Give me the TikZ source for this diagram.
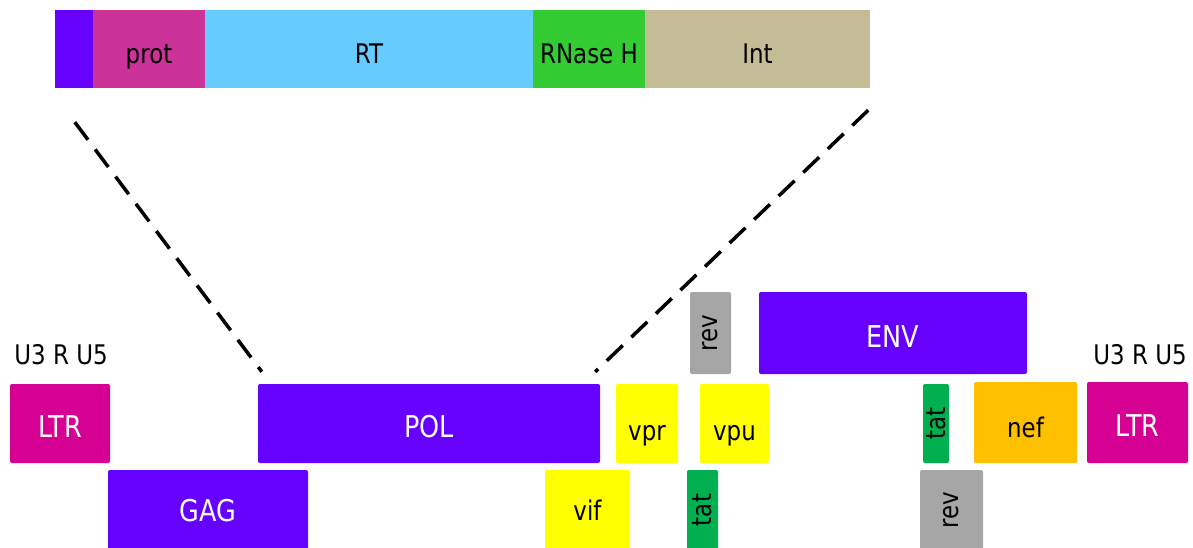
\documentclass[tikz,border=0pt]{standalone}
\usepackage{fontspec}
\setmainfont{DejaVu Sans}[FakeStretch=0.85]
\usepackage{xcolor}
\usepackage{tikz}
\usetikzlibrary{calc}
\definecolor{gpurple}{HTML}{6600FF}
\definecolor{gprot}{HTML}{CC3399}
\definecolor{grt}{HTML}{66CCFF}
\definecolor{grnase}{HTML}{33CC33}
\definecolor{gint}{HTML}{C4BC96}
\definecolor{gltr}{HTML}{D60093}
\definecolor{gyellow}{HTML}{FFFF00}
\definecolor{grev}{HTML}{A6A6A6}
\definecolor{gtat}{HTML}{00B050}
\definecolor{gnef}{HTML}{FFC000}
\tikzset{
  seg/.style={rectangle, inner sep=0pt, text=black, font=\fontsize{27}{30}\selectfont,
    text height=28pt, text depth=0pt},
  gene/.style={seg, rounded corners=2pt, text height=33pt},
  vgene/.style={rectangle, inner sep=0pt, rounded corners=2pt, rotate=90,
    font=\fontsize{27}{30}\selectfont},
  wgene/.style={gene, text=white, font=\fontsize{30}{33}\selectfont, text height=28pt},
  lab/.style={text=black, font=\fontsize{27}{30}\selectfont},
  zoomLine/.style={line width=3.5pt, dash pattern=on 22pt off 12pt}
}
\begin{document}
\begin{tikzpicture}[x=1pt,y=-1pt]
\useasboundingbox (0,0) rectangle (1193,547);
\clip (0,0) rectangle (1193,547);
% pol polyprotein, enlarged
\node[seg, fill=gpurple, minimum width=38pt, minimum height=78pt] (lead) at (74,49) {};
\node[seg, fill=gprot, minimum width=112pt, minimum height=78pt] (prot) at (149,49) {prot};
\node[seg, fill=grt, minimum width=328pt, minimum height=78pt] (rt) at (369,49) {RT};
\node[seg, fill=grnase, minimum width=112pt, minimum height=78pt] (rnase) at (589,49) {RNase H};
\node[seg, fill=gint, minimum width=225pt, minimum height=78pt] (int) at (757.5,49) {Int};

% genome
\node[lab] (u3l) at (61,355) {U3 R U5};
\node[lab] (u3r) at (1140,355) {U3 R U5};
\node[wgene, fill=gltr, minimum width=100pt, minimum height=79pt] (ltrL) at (60,423.5) {LTR};
\node[wgene, fill=gpurple, minimum width=342pt, minimum height=79pt] (pol) at (429,423.5) {POL};
\node[wgene, fill=gpurple, minimum width=200pt, minimum height=80pt, text height=22pt] (gag) at (208,510) {GAG};
\node[gene, fill=gyellow, minimum width=85pt, minimum height=80pt, text height=20.5pt] (vif) at (587.5,510) {vif};
\node[gene, fill=gyellow, minimum width=62pt, minimum height=79pt] (vpr) at (647,423.5) {vpr};
\node[gene, fill=gyellow, minimum width=69pt, minimum height=79pt] (vpu) at (734.5,423.5) {vpu};
\node[vgene, fill=grev, minimum width=82pt, minimum height=41pt] (revA) at (710.5,333) {rev};
\node[vgene, fill=gtat, minimum width=80pt, minimum height=31pt] (tatA) at (702.5,510) {tat};
\node[wgene, fill=gpurple, minimum width=268pt, minimum height=82pt] (env) at (893,333) {ENV};
\node[vgene, fill=gtat, minimum width=79pt, minimum height=26pt] (tatB) at (936,423.5) {tat};
\node[vgene, fill=grev, minimum width=80pt, minimum height=63pt] (revB) at (951.5,510) {rev};
\node[gene, fill=gnef, minimum width=103pt, minimum height=81pt, text height=30pt] (nef) at (1025.5,422.5) {nef};
\node[wgene, fill=gltr, minimum width=101pt, minimum height=81pt] (ltrR) at (1137.5,422.5) {LTR};

% zoom lines
\coordinate (zl) at ($(lead.south west)+(20,34)$);
\coordinate (zr) at ($(int.south east)+(-2,22)$);
\draw[zoomLine] (zl) -- ($(pol.north west)+(4,-12)$);
\draw[zoomLine] (zr) -- ($(pol.north east)+(-5,-12)$);
\end{tikzpicture}
\end{document}
